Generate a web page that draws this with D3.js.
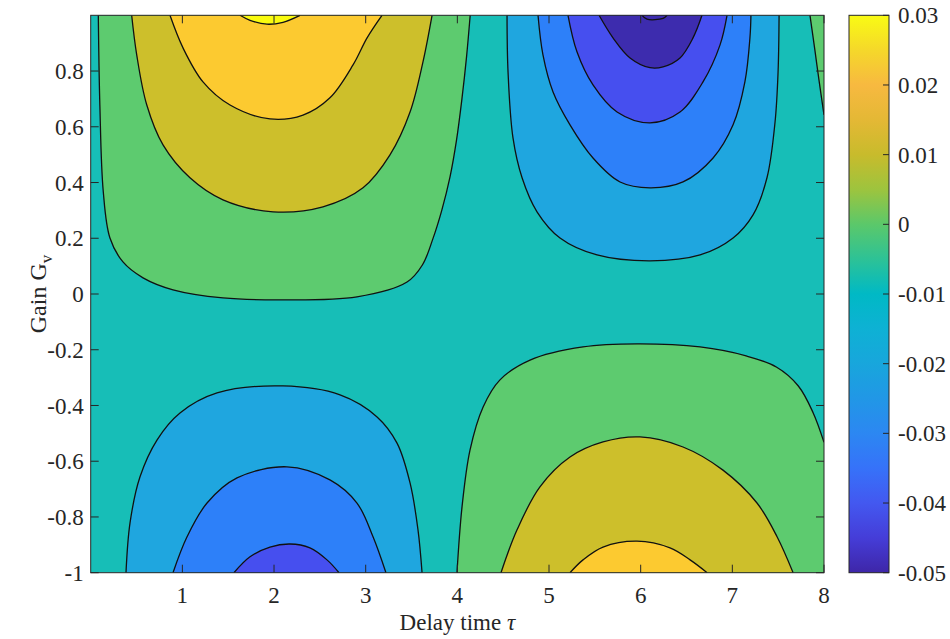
<!DOCTYPE html>
<html lang="en">
<head>
<meta charset="utf-8">
<title>Contour map</title>
<script src="https://d3js.org/d3.v7.min.js"></script>
<style>
  body { margin: 0; background: #fff; }
  svg { display: block; }
</style>
</head>
<body>
<div id="chart"></div>
<script>
// axis ticks
var tauTicks = [1, 2, 3, 4, 5, 6, 7, 8];
var gainTicks = [-1, -0.8, -0.6, -0.4, -0.2, 0, 0.2, 0.4, 0.6, 0.8];
var cbarTicks = [-0.05, -0.04, -0.03, -0.02, -0.01, 0, 0.01, 0.02, 0.03];

// value of the background band (between the lobes)
var backgroundLevel = -0.01;

// contour lines, [tau, gain] pairs
// upper left lobe (positive)
var tlLevels = [0, 0.01, 0.02, 0.03];
var tlLines = [
  [[0.083, 1], [0.10, 0.676], [0.137, 0.368], [0.21, 0.201], [0.352, 0.115], [0.571, 0.058], [0.898, 0.015],
   [1.443, -0.014], [2.098, -0.021], [2.905, -0.010], [3.451, 0.043], [3.62, 0.105], [3.73, 0.195],
   [3.83, 0.30], [3.92, 0.42], [3.99, 0.55], [4.05, 0.70], [4.10, 0.85], [4.14, 1]],
  [[0.447, 1], [0.502, 0.858], [0.611, 0.679], [0.789, 0.535], [1.083, 0.417], [1.443, 0.338], [1.989, 0.295],
   [2.534, 0.313], [2.971, 0.381], [3.265, 0.499], [3.484, 0.653], [3.625, 0.833], [3.724, 1]],
  [[0.865, 1], [1.007, 0.883], [1.225, 0.761], [1.52, 0.678], [1.956, 0.628], [2.316, 0.642], [2.61, 0.704],
   [2.862, 0.822], [3.015, 0.919], [3.178, 1]],
  [[1.629, 1], [1.738, 0.982], [1.923, 0.968], [2.098, 0.975], [2.284, 1]]
];

// upper right lobe (negative) plus the corner at tau = 8
var trLevels = [0, -0.02, -0.03, -0.04, -0.05, -0.06];
var trLines = [
  [[7.847, 1], [7.901, 0.874], [7.945, 0.768], [8, 0.643]],
  [[4.542, 1], [4.553, 0.797], [4.607, 0.56], [4.706, 0.417], [4.869, 0.295], [5.12, 0.201], [5.524, 0.14],
   [6.103, 0.119], [6.648, 0.14], [7.008, 0.201], [7.226, 0.284], [7.378, 0.417], [7.466, 0.617],
   [7.499, 0.797], [7.51, 1]],
  [[4.88, 1], [4.934, 0.858], [5.044, 0.725], [5.229, 0.607], [5.48, 0.488], [5.775, 0.402], [6.102, 0.381],
   [6.462, 0.402], [6.79, 0.488], [7.008, 0.607], [7.137, 0.761], [7.192, 0.919], [7.203, 1]],
  [[5.207, 1], [5.305, 0.869], [5.48, 0.75], [5.742, 0.653], [6.102, 0.614], [6.429, 0.653], [6.68, 0.761],
   [6.866, 0.894], [6.942, 1]],
  [[5.546, 1], [5.698, 0.919], [5.884, 0.847], [6.102, 0.812], [6.244, 0.815], [6.429, 0.847], [6.571, 0.919],
   [6.669, 1]],
  [[6.015, 1], [6.069, 0.986], [6.244, 0.989], [6.288, 1]]
];

// lower left lobe (negative)
var blLevels = [-0.02, -0.03, -0.04];
var blLines = [
  [[0.385, -1], [0.429, -0.821], [0.538, -0.656], [0.723, -0.524], [0.974, -0.427], [1.378, -0.355],
   [2.098, -0.33], [2.72, -0.362], [3.124, -0.441], [3.342, -0.535], [3.484, -0.678], [3.571, -0.847],
   [3.615, -1]],
  [[0.898, -1], [1.051, -0.871], [1.269, -0.75], [1.596, -0.66], [2.141, -0.62], [2.61, -0.667],
   [2.905, -0.75], [3.08, -0.871], [3.221, -1]],
  [[1.563, -1], [1.738, -0.943], [1.956, -0.908], [2.174, -0.897], [2.392, -0.911], [2.578, -0.954], [2.709, -1]]
];

// lower right lobe (positive)
var brLevels = [0, 0.01, 0.02];
var brLines = [
  [[3.996, -1], [4.051, -0.764], [4.138, -0.56], [4.28, -0.406], [4.465, -0.308], [4.793, -0.237],
   [5.371, -0.19], [5.96, -0.179], [6.648, -0.19], [7.15, -0.222], [7.48, -0.262], [7.72, -0.33],
   [7.88, -0.425], [8, -0.532]],
  [[4.476, -1], [4.65, -0.847], [4.901, -0.692], [5.229, -0.585], [5.589, -0.531], [5.993, -0.513],
   [6.462, -0.549], [6.898, -0.632], [7.269, -0.75], [7.488, -0.871], [7.663, -1]],
  [[5.229, -1], [5.371, -0.954], [5.589, -0.908], [5.96, -0.887], [6.32, -0.911], [6.539, -0.954], [6.725, -1]]
];

// band fill colours, one per colorbar tick
var bandColors = ["#3D2CAE", "#464FEF", "#2D80F9", "#1FA6DF", "#17BEB7", "#5DCB6F", "#CDBF2B", "#FCCA30", "#F9FB0E"];
// colorbar ramp (parula) from -0.05 up to 0.03
var rampColors = ["#3E26A8", "#453DD8", "#4358F0", "#3672F9", "#2C87F2", "#2197E6", "#18A6DC", "#0EB1D4",
  "#00B9C5", "#2DC296", "#5BC86A", "#9DC43E", "#C8BB2C", "#E4B835", "#F7B940", "#F5D82A", "#F9FB14"];

var width = 950, height = 639;
var plotLeft = 90.7, plotRight = 824, plotTop = 15.3, plotBottom = 572.7;
var fontFamily = "'Liberation Serif', 'Times New Roman', serif";

var svg = d3.select("#chart").append("svg")
  .attr("width", width)
  .attr("height", height)
  .attr("font-family", fontFamily);

svg.append("rect").attr("width", width).attr("height", height).attr("fill", "#fff");

var x = d3.scaleLinear().domain([0, 8]).range([plotLeft, plotRight]);
var y = d3.scaleLinear().domain([-1, 1]).range([plotBottom, plotTop]);

var bandColor = d3.scaleThreshold()
  .domain([-0.045, -0.035, -0.025, -0.015, -0.005, 0.005, 0.015, 0.025])
  .range(bandColors);

svg.append("clipPath").attr("id", "plotclip")
  .append("rect")
  .attr("x", plotLeft).attr("y", plotTop)
  .attr("width", plotRight - plotLeft).attr("height", plotBottom - plotTop);

var plot = svg.append("g").attr("clip-path", "url(#plotclip)");

plot.append("rect")
  .attr("x", plotLeft).attr("y", plotTop)
  .attr("width", plotRight - plotLeft).attr("height", plotBottom - plotTop)
  .attr("fill", bandColor(backgroundLevel));

var line = d3.line()
  .x(function(d){ return x(d[0]); })
  .y(function(d){ return y(d[1]); })
  .curve(d3.curveCatmullRom.alpha(0.5));

// close a contour along the plot edge
function region(pts) {
  var first = pts[0], last = pts[pts.length - 1];
  var path = line(pts);
  if (last[1] !== first[1]) {
    path += "L" + x(last[0]) + "," + y(first[1]);
  }
  return path + "Z";
}

var groups = [
  [tlLevels, tlLines],
  [trLevels, trLines],
  [blLevels, blLines],
  [brLevels, brLines]
];

groups.forEach(function(g) {
  plot.append("g").selectAll("path")
    .data(g[1])
    .enter().append("path")
      .attr("d", region)
      .attr("fill", function(d, i){ return bandColor(g[0][i]); });
});

groups.forEach(function(g) {
  plot.append("g").selectAll("path")
    .data(g[1])
    .enter().append("path")
      .attr("d", line)
      .attr("fill", "none")
      .attr("stroke", "#111")
      .attr("stroke-width", 1.3);
});

// frame and inward ticks on all four sides
var axisColor = "#262626";
var tickLen = 8;

var ticks = svg.append("g").attr("stroke", axisColor).attr("stroke-width", 1);
tauTicks.forEach(function(t) {
  ticks.append("line").attr("x1", x(t)).attr("x2", x(t)).attr("y1", plotBottom).attr("y2", plotBottom - tickLen);
  ticks.append("line").attr("x1", x(t)).attr("x2", x(t)).attr("y1", plotTop).attr("y2", plotTop + tickLen);
});
gainTicks.forEach(function(g) {
  ticks.append("line").attr("x1", plotLeft).attr("x2", plotLeft + tickLen).attr("y1", y(g)).attr("y2", y(g));
  ticks.append("line").attr("x1", plotRight).attr("x2", plotRight - tickLen).attr("y1", y(g)).attr("y2", y(g));
});

svg.append("rect")
  .attr("x", plotLeft).attr("y", plotTop)
  .attr("width", plotRight - plotLeft).attr("height", plotBottom - plotTop)
  .attr("fill", "none")
  .attr("stroke", axisColor)
  .attr("stroke-width", 1);

// tick labels
svg.append("g").selectAll("text")
  .data(tauTicks)
  .enter().append("text")
    .attr("x", function(d){ return x(d); })
    .attr("y", 603)
    .attr("text-anchor", "middle")
    .attr("font-size", "23px")
    .attr("fill", "#262626")
    .text(function(d){ return String(d); });

svg.append("g").selectAll("text")
  .data(gainTicks)
  .enter().append("text")
    .attr("x", plotLeft - 7)
    .attr("y", function(d){ return y(d); })
    .attr("dy", "0.35em")
    .attr("text-anchor", "end")
    .attr("font-size", "23px")
    .attr("fill", "#262626")
    .text(function(d){ return String(d); });

// axis titles
var xTitle = svg.append("text")
  .attr("x", (plotLeft + plotRight) / 2)
  .attr("y", 630)
  .attr("text-anchor", "middle")
  .attr("font-size", "23px")
  .attr("fill", "#262626");
xTitle.append("tspan").text("Delay time ");
xTitle.append("tspan").attr("font-style", "italic").text("τ");

var yTitle = svg.append("text")
  .attr("transform", "translate(46," + ((plotTop + plotBottom) / 2) + ") rotate(-90)")
  .attr("text-anchor", "middle")
  .attr("font-size", "24px")
  .attr("fill", "#262626");
yTitle.append("tspan").text("Gain G");
yTitle.append("tspan").attr("font-size", "17px").attr("dy", "6").text("v");

// colorbar
var cbLeft = 849, cbRight = 889;
var cbY = d3.scaleLinear().domain([-0.05, 0.03]).range([plotBottom, plotTop]);

var grad = svg.append("defs").append("linearGradient")
  .attr("id", "parula")
  .attr("x1", 0).attr("x2", 0).attr("y1", 1).attr("y2", 0);
grad.selectAll("stop")
  .data(rampColors)
  .enter().append("stop")
    .attr("offset", function(d, i){ return i / (rampColors.length - 1); })
    .attr("stop-color", function(d){ return d; });

svg.append("rect")
  .attr("x", cbLeft).attr("y", plotTop)
  .attr("width", cbRight - cbLeft).attr("height", plotBottom - plotTop)
  .attr("fill", "url(#parula)")
  .attr("stroke", axisColor)
  .attr("stroke-width", 1);

svg.append("g").selectAll("line")
  .data(cbarTicks)
  .enter().append("line")
    .attr("x1", cbRight).attr("x2", cbRight - 6)
    .attr("y1", function(d){ return cbY(d); })
    .attr("y2", function(d){ return cbY(d); })
    .attr("stroke", axisColor);

svg.append("g").selectAll("text")
  .data(cbarTicks)
  .enter().append("text")
    .attr("x", cbRight + 9)
    .attr("y", function(d){ return cbY(d); })
    .attr("dy", "0.35em")
    .attr("font-size", "23px")
    .attr("fill", "#262626")
    .text(function(d){ return String(d); });
</script>
</body>
</html>
